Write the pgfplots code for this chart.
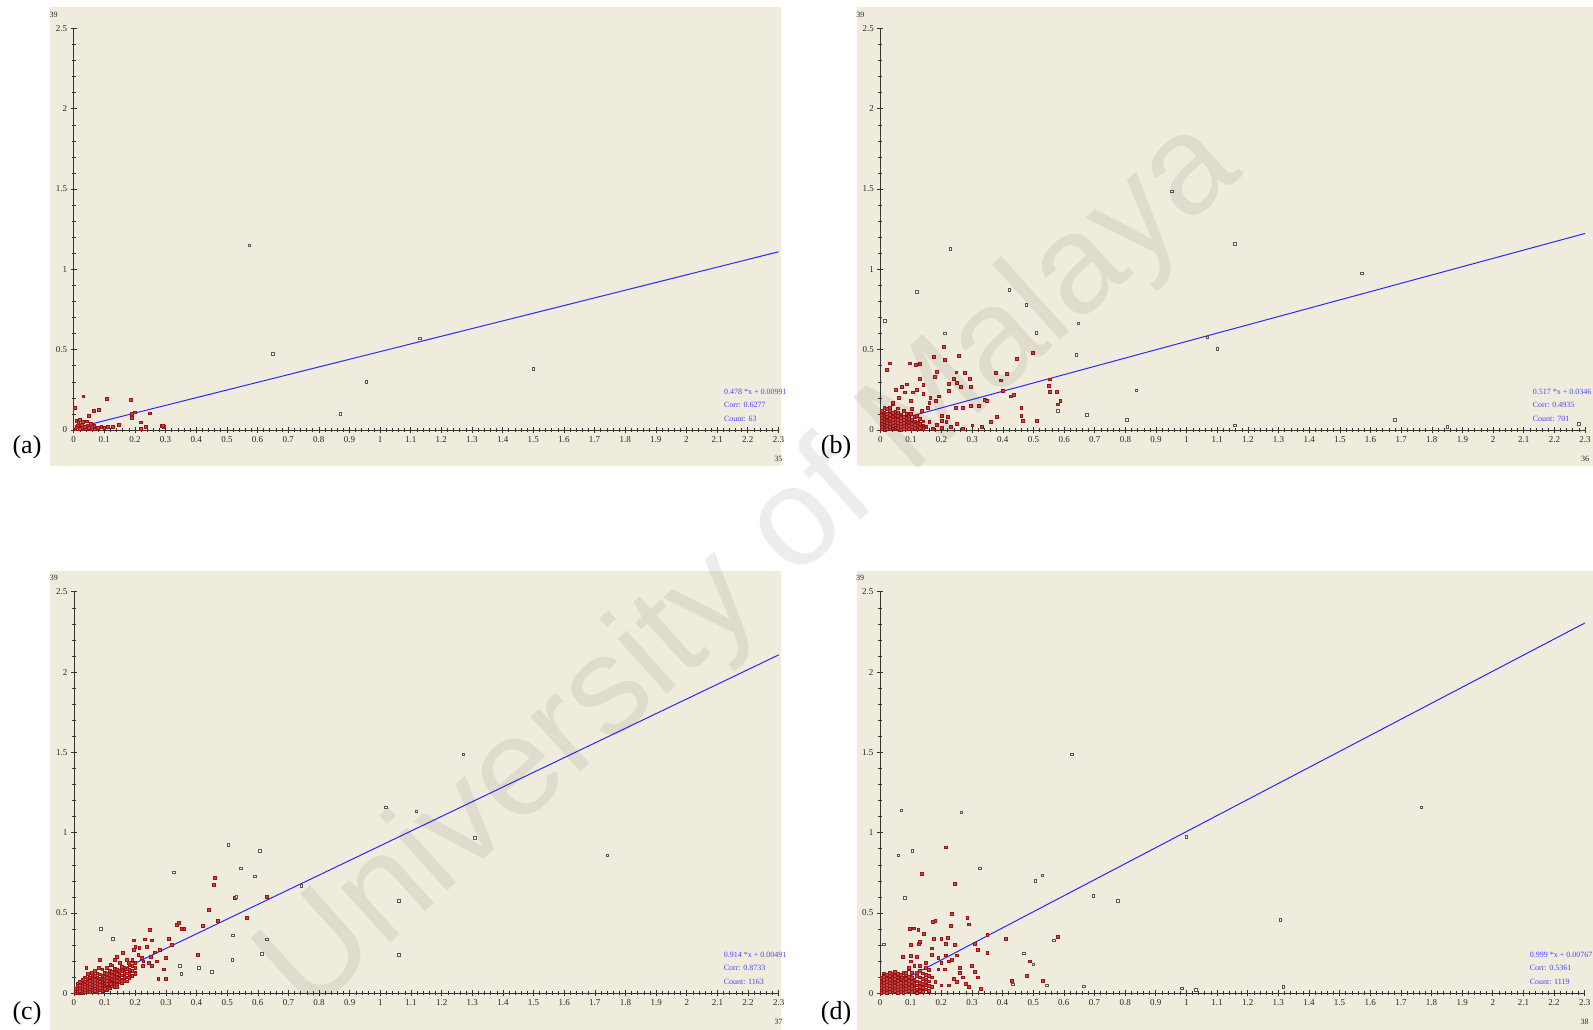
\documentclass[border=0pt]{standalone}
\usepackage{pgfplots}
\pgfplotsset{compat=1.18}
\usepackage{fontspec}
\setmainfont{Liberation Serif}
\setsansfont{Liberation Sans}
\definecolor{bg}{RGB}{240,236,221}
\definecolor{ptred}{RGB}{160,18,18}
\definecolor{lineblue}{RGB}{40,40,255}
\definecolor{stat}{RGB}{70,70,255}
\tikzset{
  stattext/.style={anchor=west, text=stat, inner sep=0pt, font=\fontsize{8}{9}\selectfont},
  smalllab/.style={inner sep=0pt, font=\fontsize{8}{9}\selectfont, text=black!85},
}
\pgfplotsset{
  panel/.style={
    scale only axis, width=704.7pt, height=401.5pt,
    xmin=0, xmax=2.3, ymin=0, ymax=2.5, enlargelimits=false, clip=false,
    axis lines=left, axis line style={-, black!80, line width=0.8pt},
    xtick={0,0.1,0.2,0.3,0.4,0.5,0.6,0.7,0.8,0.9,1,1.1,1.2,1.3,1.4,1.5,1.6,1.7,1.8,1.9,2,2.1,2.2,2.3},
    xticklabels={0,0.1,0.2,0.3,0.4,0.5,0.6,0.7,0.8,0.9,1,1.1,1.2,1.3,1.4,1.5,1.6,1.7,1.8,1.9,2,2.1,2.2,2.3},
    ytick={0,0.5,1,1.5,2,2.5}, yticklabels={0,0.5,1,1.5,2,2.5},
    minor x tick num=4, minor y tick num=4,
    tick align=center, major tick length=6pt, minor tick length=4pt,
    tick style={black!80, line width=0.6pt},
    ticklabel style={font=\fontsize{9}{10}\selectfont, text=black!85},
    /pgf/number format/assume math mode=true,
  },
  redpts/.style={only marks, mark=square*, mark size=1.4pt,
    mark options={draw=ptred, fill=ptred!75!white, line width=0.5pt}},
  darkpts/.style={only marks, mark=square*, mark size=1.3pt,
    mark options={draw=black!65, fill=white, line width=0.6pt}},
  regline/.style={lineblue, line width=1pt},
}
\begin{document}
\begin{tikzpicture}[x=1pt,y=1pt]
\useasboundingbox (0pt,0pt) rectangle (1593pt,1030pt);
\fill[white] (0pt,0pt) rectangle (1593pt,1030pt);
\fill[bg] (50pt,564pt) rectangle (781pt,1023pt);
\fill[bg] (857pt,564pt) rectangle (1593pt,1023pt);
\fill[bg] (50pt,0pt) rectangle (781pt,459pt);
\fill[bg] (857pt,0pt) rectangle (1593pt,459pt);

\node[font=\fontsize{26}{28}\selectfont] at (27pt,583pt) {(a)};
\node[font=\fontsize{26}{28}\selectfont] at (836pt,583pt) {(b)};
\node[font=\fontsize{26}{28}\selectfont] at (27pt,17pt) {(c)};
\node[font=\fontsize{26}{28}\selectfont] at (836pt,17pt) {(d)};

% ---------------- (a)
\begin{axis}[panel, at={(73.7pt,600pt)}, anchor=south west]
\addplot[redpts] coordinates {
(0.031,0.21) (0.108,0.197) (0.186,0.19) (0.003,0.14) (0.066,0.12) (0.081,0.125)
(0.048,0.087) (0.19,0.1) (0.2,0.11) (0.247,0.104) (0.19,0.075) (0.02,0.062)
(0.22,0.048) (0.146,0.035) (0.127,0.022) (0.236,0.02) (0.22,0.01) (0.287,0.027)
(0.295,0.02) (0.09,0.02) (0.078,0.015) (0.005,0.005) (0.01,0.02) (0.015,0.045)
(0.02,0.01) (0.025,0.035) (0.03,0.05) (0.035,0.02) (0.04,0.005) (0.045,0.03)
(0.05,0.015) (0.055,0.04) (0.06,0.01) (0.065,0.025) (0.07,0.005) (0.1,0.012)
(0.11,0.02) (0.008,0.06) (0.02,0.065) (0.012,0.03) (0.028,0.012) (0.058,0.022)
(0.042,0.055) (0.29,0.025)
};
\addplot[darkpts] coordinates {
(0.573,1.15) (0.65,0.475) (0.955,0.30) (0.87,0.10) (1.13,0.57) (1.50,0.38)
};
\addplot[regline] coordinates {(0,0.00991) (2.3,1.10931)};
\node[stattext] at (axis cs:2.122,0.237) {0.478 *x + 0.00991};
\node[stattext] at (axis cs:2.122,0.156) {Corr: 0.6277};
\node[stattext] at (axis cs:2.122,0.068) {Count: 63};
\node[smalllab, xshift=-20pt, yshift=13.5pt] at (axis cs:0,2.5) {39};
\node[smalllab, yshift=-29pt] at (axis cs:2.3,0) {35};
\end{axis}

% ---------------- (b)
\begin{axis}[panel, at={(880.3pt,600pt)}, anchor=south west]
\addplot[redpts] coordinates {
(0.004,0.006) (0.004,0.022) (0.004,0.041) (0.004,0.058) (0.004,0.075) (0.004,0.095) (0.004,0.118)
(0.013,0.003) (0.013,0.018) (0.013,0.034) (0.013,0.052) (0.013,0.069) (0.013,0.088) (0.013,0.11) (0.013,0.14)
(0.022,0.009) (0.022,0.026) (0.022,0.043) (0.022,0.061) (0.022,0.08) (0.022,0.102) (0.022,0.13)
(0.031,0.004) (0.031,0.02) (0.031,0.037) (0.031,0.054) (0.031,0.072) (0.031,0.093) (0.031,0.121)
(0.04,0.011) (0.04,0.028) (0.04,0.046) (0.04,0.064) (0.04,0.085) (0.04,0.108) (0.04,0.16)
(0.049,0.005) (0.049,0.019) (0.049,0.035) (0.049,0.053) (0.049,0.071) (0.049,0.092) (0.049,0.115)
(0.058,0.012) (0.058,0.029) (0.058,0.047) (0.058,0.066) (0.058,0.087) (0.058,0.105) (0.058,0.135)
(0.067,0.003) (0.067,0.021) (0.067,0.039) (0.067,0.057) (0.067,0.076) (0.067,0.098)
(0.076,0.009) (0.076,0.027) (0.076,0.045) (0.076,0.063) (0.076,0.083) (0.076,0.12)
(0.085,0.004) (0.085,0.018) (0.085,0.036) (0.085,0.055) (0.085,0.074) (0.085,0.1)
(0.094,0.01) (0.094,0.028) (0.094,0.048) (0.094,0.069) (0.094,0.09)
(0.103,0.006) (0.103,0.022) (0.103,0.041) (0.103,0.062) (0.103,0.13)
(0.112,0.012) (0.112,0.033) (0.112,0.055) (0.112,0.08)
(0.121,0.005) (0.121,0.025) (0.121,0.047)
(0.13,0.015) (0.13,0.038) (0.13,0.07)
(0.14,0.008) (0.14,0.03) (0.14,0.055)
(0.497,0.48) (0.208,0.52) (0.03,0.415) (0.02,0.375) (0.095,0.415) (0.115,0.405)
(0.13,0.413) (0.175,0.455) (0.211,0.436) (0.255,0.46) (0.446,0.444) (0.552,0.316)
(0.553,0.24) (0.587,0.18) (0.183,0.365) (0.178,0.33) (0.248,0.36) (0.275,0.357)
(0.377,0.357) (0.413,0.352) (0.394,0.31) (0.13,0.32) (0.24,0.32) (0.25,0.296)
(0.262,0.267) (0.224,0.29) (0.224,0.243) (0.295,0.27) (0.293,0.32) (0.4,0.245)
(0.426,0.21) (0.436,0.217) (0.34,0.19) (0.348,0.18) (0.55,0.275) (0.577,0.24)
(0.58,0.16) (0.46,0.14) (0.46,0.09) (0.466,0.06) (0.51,0.06) (0.32,0.15)
(0.295,0.15) (0.27,0.14) (0.245,0.14) (0.22,0.08) (0.2,0.09) (0.2,0.06)
(0.14,0.28) (0.12,0.25) (0.105,0.235) (0.08,0.235) (0.07,0.27) (0.087,0.285)
(0.05,0.25) (0.14,0.225) (0.163,0.2) (0.18,0.18) (0.155,0.14) (0.135,0.12)
(0.12,0.09) (0.1,0.1) (0.15,0.02) (0.16,0.05) (0.17,0.01) (0.185,0.035)
(0.2,0.015) (0.215,0.05) (0.23,0.02) (0.25,0.04) (0.27,0.01) (0.3,0.03)
(0.33,0.02) (0.36,0.05) (0.38,0.08) (0.16,0.17) (0.19,0.21) (0.1,0.18)
(0.06,0.2) (0.04,0.17) (0.03,0.14)
};
\addplot[darkpts] coordinates {
(0.951,1.487) (0.229,1.127) (1.157,1.158) (0.119,0.86) (0.421,0.873) (0.015,0.68)
(0.477,0.778) (1.571,0.975) (0.211,0.602) (0.509,0.606) (0.646,0.665) (0.835,0.247)
(1.067,0.576) (1.10,0.506) (0.64,0.468) (0.673,0.095) (0.805,0.063) (1.157,0.03)
(1.68,0.063) (1.85,0.02) (2.28,0.04) (0.58,0.12)
};
\addplot[regline] coordinates {(0,0.0346) (2.3,1.2237)};
\node[stattext] at (axis cs:2.129,0.237) {0.517 *x + 0.0346};
\node[stattext] at (axis cs:2.129,0.156) {Corr: 0.4935};
\node[stattext] at (axis cs:2.129,0.068) {Count: 701};
\node[smalllab, xshift=-20pt, yshift=13.5pt] at (axis cs:0,2.5) {39};
\node[smalllab, yshift=-29pt] at (axis cs:2.3,0) {36};
\end{axis}

% ---------------- (c)
\begin{axis}[panel, at={(74pt,36.7pt)}, anchor=south west]
\addplot[redpts] coordinates {
(0.004,0.004) (0.004,0.015) (0.004,0.03)
(0.012,0.003) (0.012,0.014) (0.012,0.028) (0.012,0.045) (0.012,0.062)
(0.02,0.006) (0.02,0.018) (0.02,0.032) (0.02,0.048) (0.02,0.07)
(0.028,0.004) (0.028,0.016) (0.028,0.03) (0.028,0.046) (0.028,0.063) (0.028,0.085)
(0.036,0.01) (0.036,0.024) (0.036,0.04) (0.036,0.056) (0.036,0.075) (0.036,0.1)
(0.044,0.006) (0.044,0.02) (0.044,0.035) (0.044,0.05) (0.044,0.068) (0.044,0.09) (0.044,0.12)
(0.052,0.012) (0.052,0.027) (0.052,0.043) (0.052,0.06) (0.052,0.079) (0.052,0.1)
(0.06,0.008) (0.06,0.022) (0.06,0.038) (0.06,0.055) (0.06,0.072) (0.06,0.092) (0.06,0.115)
(0.068,0.015) (0.068,0.031) (0.068,0.048) (0.068,0.066) (0.068,0.085) (0.068,0.108) (0.068,0.14)
(0.076,0.01) (0.076,0.026) (0.076,0.043) (0.076,0.061) (0.076,0.08) (0.076,0.1) (0.076,0.125)
(0.084,0.02) (0.084,0.037) (0.084,0.055) (0.084,0.074) (0.084,0.094) (0.084,0.118)
(0.092,0.015) (0.092,0.032) (0.092,0.05) (0.092,0.069) (0.092,0.088) (0.092,0.11) (0.092,0.15)
(0.1,0.025) (0.1,0.044) (0.1,0.063) (0.1,0.083) (0.1,0.105) (0.1,0.13)
(0.108,0.02) (0.108,0.038) (0.108,0.058) (0.108,0.078) (0.108,0.098) (0.108,0.122) (0.108,0.16)
(0.116,0.032) (0.116,0.052) (0.116,0.073) (0.116,0.094) (0.116,0.117) (0.116,0.14)
(0.124,0.045) (0.124,0.066) (0.124,0.088) (0.124,0.11) (0.124,0.135) (0.124,0.175)
(0.132,0.04) (0.132,0.06) (0.132,0.082) (0.132,0.104) (0.132,0.128) (0.132,0.155)
(0.14,0.055) (0.14,0.077) (0.14,0.1) (0.14,0.124) (0.14,0.15)
(0.148,0.07) (0.148,0.093) (0.148,0.117) (0.148,0.142) (0.148,0.19)
(0.156,0.065) (0.156,0.088) (0.156,0.112) (0.156,0.137) (0.156,0.165)
(0.164,0.08) (0.164,0.105) (0.164,0.13) (0.164,0.16)
(0.172,0.075) (0.172,0.1) (0.172,0.125) (0.172,0.152) (0.172,0.21)
(0.18,0.095) (0.18,0.12) (0.18,0.148) (0.18,0.18)
(0.19,0.11) (0.19,0.14) (0.19,0.17) (0.19,0.2)
(0.2,0.13) (0.2,0.16) (0.2,0.19)
(0.457,0.677) (0.524,0.595) (0.246,0.394) (0.335,0.425) (0.341,0.44) (0.35,0.40)
(0.36,0.40) (0.42,0.42) (0.44,0.52) (0.47,0.45) (0.46,0.72) (0.563,0.47)
(0.628,0.6) (0.403,0.24) (0.3,0.09) (0.275,0.09) (0.292,0.15) (0.27,0.2)
(0.3,0.22) (0.264,0.255) (0.31,0.338) (0.255,0.33) (0.23,0.336) (0.237,0.29)
(0.213,0.283) (0.2,0.29) (0.194,0.33) (0.194,0.27) (0.226,0.2) (0.224,0.17)
(0.243,0.19) (0.254,0.17) (0.178,0.19) (0.16,0.25) (0.14,0.23) (0.134,0.21)
(0.15,0.19) (0.167,0.15) (0.178,0.1) (0.156,0.08) (0.118,0.18) (0.085,0.21)
(0.08,0.16) (0.058,0.13) (0.04,0.16) (0.21,0.24) (0.22,0.22) (0.19,0.21)
(0.2,0.16) (0.25,0.23) (0.28,0.27) (0.32,0.3) (0.2,0.12) (0.12,0.06)
(0.14,0.04) (0.1,0.03)
};
\addplot[darkpts] coordinates {
(1.27,1.487) (1.018,1.158) (1.117,1.133) (1.309,0.968) (1.74,0.86) (1.06,0.576)
(1.06,0.24) (0.504,0.924) (0.607,0.886) (0.325,0.753) (0.544,0.778) (0.59,0.728)
(0.742,0.67) (0.53,0.6) (0.63,0.335) (0.612,0.245) (0.517,0.21) (0.518,0.36)
(0.408,0.16) (0.45,0.134) (0.345,0.17) (0.35,0.12) (0.088,0.40) (0.126,0.338)
};
\addplot[regline] coordinates {(0,0.00491) (2.3,2.10711)};
\node[stattext] at (axis cs:2.12,0.238) {0.914 *x + 0.00491};
\node[stattext] at (axis cs:2.12,0.157) {Corr: 0.8733};
\node[stattext] at (axis cs:2.12,0.07) {Count: 1163};
\node[smalllab, xshift=-20pt, yshift=13.5pt] at (axis cs:0,2.5) {39};
\node[smalllab, yshift=-29pt] at (axis cs:2.3,0) {37};
\end{axis}

% ---------------- (d)
\begin{axis}[panel, at={(880pt,36.7pt)}, anchor=south west]
\addplot[redpts] coordinates {
(0.004,0.005) (0.004,0.02) (0.004,0.037) (0.004,0.055) (0.004,0.075) (0.004,0.095)
(0.013,0.01) (0.013,0.027) (0.013,0.045) (0.013,0.064) (0.013,0.084) (0.013,0.105) (0.013,0.125)
(0.022,0.004) (0.022,0.019) (0.022,0.036) (0.022,0.054) (0.022,0.073) (0.022,0.093) (0.022,0.115)
(0.031,0.012) (0.031,0.029) (0.031,0.047) (0.031,0.066) (0.031,0.086) (0.031,0.107) (0.031,0.13)
(0.04,0.006) (0.04,0.022) (0.04,0.04) (0.04,0.058) (0.04,0.078) (0.04,0.098) (0.04,0.12)
(0.049,0.014) (0.049,0.031) (0.049,0.049) (0.049,0.069) (0.049,0.089) (0.049,0.11) (0.049,0.135)
(0.058,0.005) (0.058,0.021) (0.058,0.039) (0.058,0.058) (0.058,0.078) (0.058,0.1) (0.058,0.122)
(0.067,0.012) (0.067,0.03) (0.067,0.048) (0.067,0.068) (0.067,0.09) (0.067,0.115)
(0.076,0.004) (0.076,0.02) (0.076,0.038) (0.076,0.057) (0.076,0.078) (0.076,0.1) (0.076,0.13)
(0.085,0.011) (0.085,0.029) (0.085,0.048) (0.085,0.068) (0.085,0.09) (0.085,0.112)
(0.094,0.018) (0.094,0.037) (0.094,0.058) (0.094,0.08) (0.094,0.105) (0.094,0.15)
(0.103,0.008) (0.103,0.027) (0.103,0.047) (0.103,0.07) (0.103,0.095) (0.103,0.13)
(0.112,0.015) (0.112,0.036) (0.112,0.06) (0.112,0.085) (0.112,0.17)
(0.121,0.005) (0.121,0.025) (0.121,0.05) (0.121,0.075) (0.121,0.11)
(0.13,0.018) (0.13,0.042) (0.13,0.068) (0.13,0.1) (0.13,0.14)
(0.14,0.008) (0.14,0.033) (0.14,0.06) (0.14,0.09) (0.14,0.125)
(0.15,0.025) (0.15,0.05) (0.15,0.082) (0.15,0.115) (0.15,0.16)
(0.16,0.015) (0.16,0.045) (0.16,0.075) (0.16,0.11) (0.16,0.145)
(0.215,0.91) (0.136,0.746) (0.245,0.684) (0.172,0.444) (0.18,0.45) (0.234,0.496)
(0.23,0.42) (0.285,0.47) (0.29,0.43) (0.096,0.40) (0.11,0.405) (0.125,0.395)
(0.143,0.37) (0.127,0.31) (0.13,0.32) (0.1,0.3) (0.175,0.34) (0.2,0.34)
(0.22,0.345) (0.215,0.31) (0.245,0.3) (0.31,0.31) (0.35,0.365) (0.32,0.27)
(0.35,0.25) (0.41,0.34) (0.074,0.23) (0.1,0.235) (0.12,0.23) (0.17,0.28)
(0.17,0.24) (0.19,0.22) (0.215,0.237) (0.233,0.21) (0.25,0.237) (0.225,0.2)
(0.2,0.19) (0.21,0.15) (0.19,0.15) (0.17,0.1) (0.18,0.07) (0.225,0.05)
(0.26,0.16) (0.26,0.13) (0.3,0.17) (0.31,0.135) (0.25,0.07) (0.29,0.04)
(0.33,0.03) (0.28,0.06) (0.17,0.04) (0.15,0.07) (0.12,0.13) (0.13,0.17)
(0.15,0.19) (0.1,0.2) (0.095,0.16) (0.085,0.13) (0.07,0.1) (0.48,0.11)
(0.43,0.08) (0.53,0.08) (0.49,0.2) (0.58,0.35) (0.27,0.1) (0.24,0.09)
(0.2,0.05) (0.32,0.1)
};
\addplot[darkpts] coordinates {
(0.626,1.487) (0.07,1.14) (0.265,1.127) (1.767,1.158) (1.0,0.975) (1.306,0.456)
(0.06,0.86) (0.106,0.886) (0.325,0.778) (0.08,0.595) (0.696,0.608) (0.776,0.576)
(0.567,0.33) (0.5,0.18) (0.544,0.05) (0.434,0.057) (0.985,0.03) (1.03,0.02)
(1.316,0.04) (0.666,0.044) (0.013,0.305) (0.53,0.734) (0.507,0.70) (0.47,0.25)
};
\addplot[regline] coordinates {(0,0.00767) (2.3,2.30537)};
\node[stattext] at (axis cs:2.12,0.238) {0.999 *x + 0.00767};
\node[stattext] at (axis cs:2.12,0.157) {Corr: 0.5361};
\node[stattext] at (axis cs:2.12,0.07) {Count: 1119};
\node[smalllab, xshift=-20pt, yshift=13.5pt] at (axis cs:0,2.5) {39};
\node[smalllab, yshift=-29pt] at (axis cs:2.3,0) {38};
\end{axis}

\node[rotate=42, opacity=0.07, font=\fontsize{140}{140}\sffamily] at (752pt,461pt) {University of Malaya};
\end{tikzpicture}
\end{document}
